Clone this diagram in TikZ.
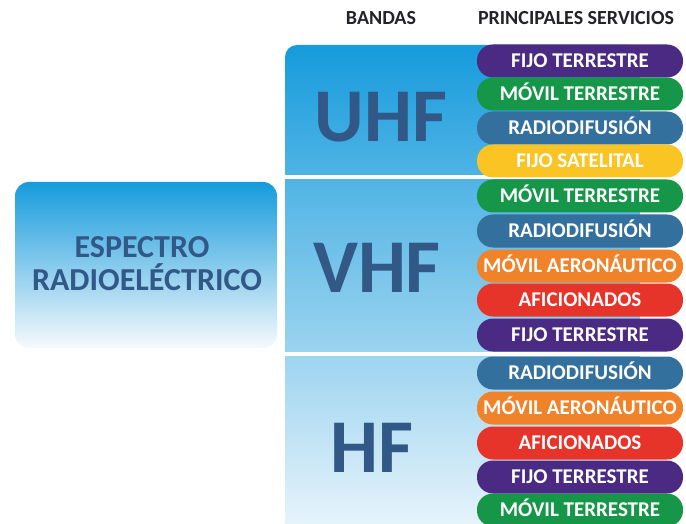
\documentclass[tikz,border=0pt]{standalone}
\usepackage{fontspec}
\setmainfont{Carlito}
\definecolor{cPurple}{RGB}{74,42,130}
\definecolor{cGreen}{RGB}{22,150,72}
\definecolor{cSteel}{RGB}{52,112,158}
\definecolor{cYellow}{RGB}{250,196,36}
\definecolor{cOrange}{RGB}{240,130,42}
\definecolor{cRed}{RGB}{230,52,42}
\definecolor{cBand}{RGB}{50,88,135}
\definecolor{cHead}{RGB}{35,35,40}
\definecolor{cTop}{RGB}{22,155,220}
\definecolor{cMid}{RGB}{140,203,235}
\definecolor{cBot}{RGB}{246,250,253}
\tikzset{
  pill/.style={draw=none, minimum width=206pt, minimum height=33pt, rounded corners=16pt,
    inner sep=0pt, text=white, font=\bfseries\fontsize{21}{21}\selectfont,
    text height=13pt, text depth=0pt},
  head/.style={anchor=base, text=cHead, font=\bfseries\fontsize{20}{20}\selectfont, inner sep=0pt},
  band/.style={anchor=base, text=cBand, font=\bfseries\fontsize{76}{76}\selectfont, inner sep=0pt},
  esptext/.style={anchor=base, text=cBand, font=\bfseries\fontsize{32}{32}\selectfont, inner sep=0pt},
  gap/.style={fill=white, draw=none}
}
\begin{document}
\begin{tikzpicture}[x=1pt,y=-1pt]
\clip (0,0) rectangle (686,524);
\fill[white] (0,0) rectangle (686,524);
% headers
\node[head] (hb) at (381,25) {BANDAS};
\node[head] (hs) at (576,25) {PRINCIPALES SERVICIOS};
% band panel
\shade[top color=cTop, middle color=cMid, bottom color=cBot, rounded corners=12pt]
  (285,45) rectangle (640,560);
\fill[gap] (285,175.5) rectangle (640,179.5);
\fill[gap] (285,351.5) rectangle (640,356);
% left box
\node[draw=none, minimum width=262pt, minimum height=166pt, rounded corners=14pt,
  top color=cTop, middle color=cMid, bottom color=cBot, inner sep=0pt] (esp) at (146,265) {};
\node[esptext] (e1) at (142,257) {ESPECTRO};
\node[esptext] (e2) at (147,290) {RADIOELÉCTRICO};
% band labels
\node[band] (uhf) at (381,142) {UHF};
\node[band] (vhf) at (377,292) {VHF};
\node[band] (hf) at (372,472) {HF};
% UHF pills
\node[pill, fill=cPurple] (u1) at (580,61) {FIJO TERRESTRE};
\node[pill, fill=cGreen] (u2) at (580,94) {MÓVIL TERRESTRE};
\node[pill, fill=cSteel] (u3) at (580,128) {RADIODIFUSIÓN};
\node[pill, fill=cYellow] (u4) at (580,161) {FIJO SATELITAL};
% VHF pills
\node[pill, fill=cGreen] (v1) at (580,196) {MÓVIL TERRESTRE};
\node[pill, fill=cSteel] (v2) at (580,231) {RADIODIFUSIÓN};
\node[pill, fill=cOrange] (v3) at (580,266) {MÓVIL AERONÁUTICO};
\node[pill, fill=cRed] (v4) at (580,300) {AFICIONADOS};
\node[pill, fill=cPurple] (v5) at (580,335) {FIJO TERRESTRE};
% HF pills
\node[pill, fill=cSteel] (h1) at (580,373) {RADIODIFUSIÓN};
\node[pill, fill=cOrange] (h2) at (580,408) {MÓVIL AERONÁUTICO};
\node[pill, fill=cRed] (h3) at (580,443) {AFICIONADOS};
\node[pill, fill=cPurple] (h4) at (580,477) {FIJO TERRESTRE};
\node[pill, fill=cGreen] (h5) at (580,510) {MÓVIL TERRESTRE};
\end{tikzpicture}
\end{document}
